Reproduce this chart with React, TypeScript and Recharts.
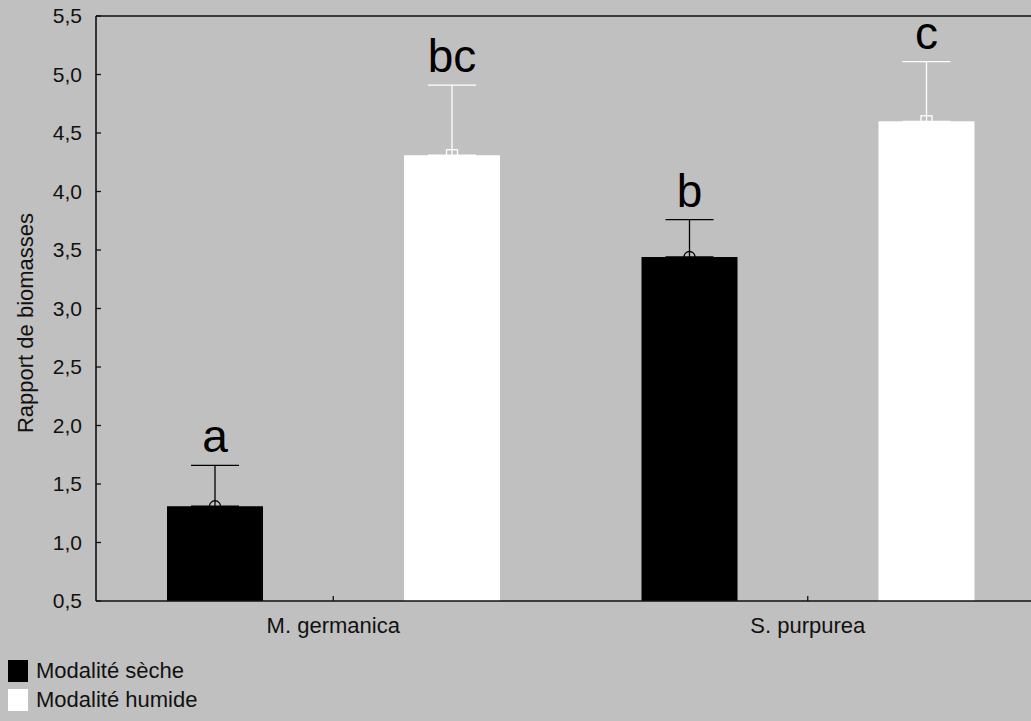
import { BarChart, Bar, XAxis, YAxis, ErrorBar, LabelList, ReferenceLine } from 'recharts'

const categories = ['M. germanica', 'S. purpurea']
const seriesNames = ['Modalité sèche', 'Modalité humide']
const secheValues = [1.31, 3.44]
const secheErrors = [0.35, 0.32]
const secheLetters = ['a', 'b']
const humideValues = [4.31, 4.6]
const humideErrors = [0.6, 0.51]
const humideLetters = ['bc', 'c']
const yTicks = [0.5, 1, 1.5, 2, 2.5, 3, 3.5, 4, 4.5, 5, 5.5]
const Y_MIN = 0.5

const data = categories.map((name, i) => ({
  name,
  seche: secheValues[i],
  secheErr: [0, secheErrors[i]],
  secheLetter: secheLetters[i],
  humide: humideValues[i],
  humideErr: [0, humideErrors[i]],
  humideLetter: humideLetters[i],
}))

const FONT = '"Liberation Sans", Arial, Helvetica, sans-serif'
const INK = '#111'

function formatTick(v: number): string {
  return v.toFixed(1).replace('.', ',')
}

function makeBarShape(kind: 'circle' | 'square', color: string) {
  return (props: any) => {
    const { x, y, width, height } = props
    const cx = x + width / 2
    return (
      <g>
        <rect x={x} y={y} width={width} height={height} fill={color} />
        {kind === 'circle' ? (
          <circle cx={cx} cy={y} r={5.5} fill="none" stroke={color} strokeWidth={1.3} />
        ) : (
          <rect x={cx - 5.5} y={y - 5.5} width={11} height={11} fill="none" stroke={color} strokeWidth={1.3} />
        )}
      </g>
    )
  }
}

function makeLetterLabel(values: number[], errors: number[]) {
  return (props: any) => {
    const { x, y, width, height, value, index } = props
    const mean = values[index]
    const pxPerUnit = height / (mean - Y_MIN)
    const errTop = y - errors[index] * pxPerUnit
    return (
      <text x={x + width / 2} y={errTop - 13} textAnchor="middle" fontSize={46} fontFamily={FONT} fill="#000">
        {value}
      </text>
    )
  }
}

export default function App() {
  return (
    <div
      style={{
        position: 'fixed',
        left: 0,
        top: 0,
        width: 1031,
        height: 721,
        overflow: 'hidden',
        background: '#c0c0c0',
        fontFamily: FONT,
      }}
    >
      <BarChart
        width={1045}
        height={721}
        data={data}
        margin={{ top: 16, right: 0, bottom: 80, left: 0 }}
        barSize={96}
        barGap={141}
      >
        <XAxis
          dataKey="name"
          height={40}
          axisLine={{ stroke: INK, strokeWidth: 1.6 }}
          tickLine={{ stroke: INK, strokeWidth: 1.3 }}
          tickSize={-5}
          tickMargin={21}
          tick={{ fontSize: 22, fill: INK, fontFamily: FONT }}
        />
        <YAxis
          width={96}
          domain={[0.5, 5.5]}
          ticks={yTicks}
          tickFormatter={formatTick}
          allowDataOverflow
          axisLine={{ stroke: INK, strokeWidth: 1.6 }}
          tickLine={{ stroke: INK, strokeWidth: 1.3 }}
          tickSize={-5}
          tickMargin={19}
          tick={{ fontSize: 21, fill: INK, fontFamily: FONT }}
          label={{
            content: () => (
              <text
                x={33}
                y={323}
                transform="rotate(-90 33 323)"
                textAnchor="middle"
                fontSize={22}
                fontFamily={FONT}
                fill={INK}
              >
                Rapport de biomasses
              </text>
            ),
          }}
        />
        <ReferenceLine y={5.5} stroke={INK} strokeWidth={1.6} />
        <Bar dataKey="seche" name={seriesNames[0]} fill="#000" shape={makeBarShape('circle', '#000')} isAnimationActive={false}>
          <ErrorBar dataKey="secheErr" width={24} stroke="#000" strokeWidth={1.3} direction="y" isAnimationActive={false} />
          <LabelList dataKey="secheLetter" content={makeLetterLabel(secheValues, secheErrors)} />
        </Bar>
        <Bar dataKey="humide" name={seriesNames[1]} fill="#fff" shape={makeBarShape('square', '#fff')} isAnimationActive={false}>
          <ErrorBar dataKey="humideErr" width={24} stroke="#fff" strokeWidth={1.3} direction="y" isAnimationActive={false} />
          <LabelList dataKey="humideLetter" content={makeLetterLabel(humideValues, humideErrors)} />
        </Bar>
      </BarChart>
      {seriesNames.map((label, i) => (
        <div
          key={label}
          style={{
            position: 'absolute',
            left: 8,
            top: 656 + i * 29,
            height: 29,
            lineHeight: '29px',
            fontSize: 22,
            color: INK,
            display: 'flex',
            alignItems: 'center',
            whiteSpace: 'nowrap',
          }}
        >
          <span
            style={{
              display: 'inline-block',
              width: 20,
              height: 22,
              background: i === 0 ? '#000' : '#fff',
              marginRight: 8,
            }}
          />
          {label}
        </div>
      ))}
    </div>
  )
}
